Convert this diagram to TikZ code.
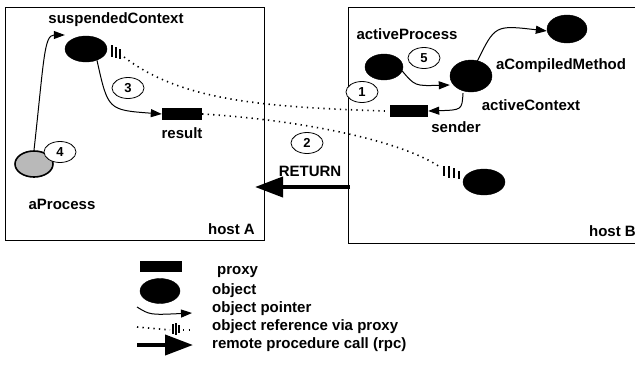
\documentclass[tikz,border=0pt]{standalone}
\usepackage{fontspec}
\setmainfont{Liberation Sans}
\usetikzlibrary{arrows.meta,shapes.geometric}
\begin{document}
\begin{tikzpicture}[x=1pt,y=-1pt,
  lbl/.style={font=\bfseries\fontsize{15}{17}\selectfont, inner sep=0pt},
  obj/.style={ellipse, fill=black, draw=black, minimum width=42pt, minimum height=26pt, inner sep=0pt},
  prx/.style={rectangle, fill=black, minimum width=40pt, minimum height=12pt, inner sep=0pt},
  num/.style={ellipse, draw=black, line width=0.8pt, fill=white, minimum width=32pt,
    minimum height=21pt, inner sep=0pt, font=\bfseries\fontsize{13}{15}\selectfont},
  ptr/.style={line width=1pt, -{Triangle[length=11pt,width=8pt]}},
  refl/.style={line width=1.6pt, dash pattern=on 1.3pt off 4.2pt},
  tick/.style={line width=1.2pt},
  rpc/.style={line width=4pt, -{Triangle[length=28pt,width=20pt]}},
  hostbox/.style={draw=black, line width=1pt}
]
\useasboundingbox (0,0) rectangle (635,380);

% hosts
\draw[hostbox] (5,7) rectangle (264,240);
\draw[hostbox] (348,7) rectangle (645,243);
\node[lbl, anchor=east] (hA) at (255,229) {host A};
\node[lbl, anchor=east] (hB) at (636,231) {host B};

% host A objects
\node[obj] (sc) at (86,49) {};
\node[lbl] (scl) at (116,20) {suspendedContext};
\node[ellipse, draw=black, line width=1.6pt, fill=gray!55, minimum width=38pt,
  minimum height=26pt, inner sep=0pt] (ap) at (34,164) {};
\node[lbl] (apl) at (62,204) {aProcess};
\node[prx] (res) at (182,114) {};
\node[lbl] (resl) at (182,133) {result};
\node[num] (n4) at (60,152) {4};
\node[num] (n3) at (128,88) {3};

% host B objects
\node[obj, minimum width=38pt] (apr) at (384,67) {};
\node[lbl] (aprl) at (407,34) {activeProcess};
\node[obj, minimum height=32pt] (ac) at (471,76) {};
\node[lbl] (acl) at (531,105) {activeContext};
\node[obj, minimum width=40pt, minimum height=28pt] (cm) at (567,29) {};
\node[lbl] (cml) at (561,66) {aCompiledMethod};
\node[prx, minimum width=38pt] (snd) at (409,111) {};
\node[lbl] (sndl) at (456,127) {sender};
\node[obj] (ob) at (484,182) {};
\node[num] (n5) at (424,58) {5};
\node[num] (n1) at (362,92) {1};
\node[num] (n2) at (307,143) {2};

% object pointers
\draw[ptr] (ap.north) .. controls (44,60) and (44,35) .. (sc.west |- 0,35);
\draw[ptr] (sc.south east) ++(-4,2) .. controls (108,110) .. (res.west);
\draw[ptr] (apr.east) ++(-1,4) .. controls (415,86) .. (ac.west |- 0,85);
\draw[ptr] (ac.north) ++(6,2) .. controls (495,25) .. (cm.west |- 0,31);
\draw[ptr] (ac.south) ++(-8,1) .. controls (462,110) .. (snd.east);

% references via proxy
\foreach \x/\a/\b in {112/45/57, 116/47/58, 120/49/59}
  \draw[tick] (\x,\a) -- (\x,\b);
\coordinate (r1) at (124,57);
\draw[refl] (r1) .. controls (180,100) and (260,107) .. ([xshift=-5pt]snd.west);
\coordinate (r2) at (440,167);
\draw[refl] (res.east) .. controls (300,120) and (400,140) .. (r2);
\foreach \x/\a/\b in {444/166/176, 449/166/178, 454/168/178, 459/171/179}
  \draw[tick] (\x,\a) -- (\x,\b);

% remote procedure call
\coordinate (rs) at (350,187);
\coordinate (re) at (255,187);
\draw[rpc] (rs) -- (re);
\node[lbl] (ret) at (310,171) {RETURN};

% legend
\node[prx, minimum width=42pt, minimum height=11pt] (lp) at (161,266) {};
\node[obj, minimum width=40pt, minimum height=25pt] (lo) at (160,291) {};
\coordinate (lpa) at (137,307);
\coordinate (lpb) at (192,313);
\draw[ptr] (lpa) .. controls (150,315) .. (lpb);
\coordinate (lra) at (137,327);
\coordinate (lrb) at (170,330);
\draw[refl] (lra) -- (lrb);
\foreach \x/\a/\b in {173/324/334, 176/323/335, 179/325/333}
  \draw[tick] (\x,\a) -- (\x,\b);
\draw[refl] (183,330) -- (190,330);
\coordinate (lca) at (137,345);
\coordinate (lcb) at (193,345);
\draw[rpc] (lca) -- (lcb);
\node[lbl, anchor=west] (t1) at (217,272) {proxy};
\node[lbl, anchor=west] (t2) at (212,291) {object};
\node[lbl, anchor=west] (t3) at (212,309) {object pointer};
\node[lbl, anchor=west] (t4) at (212,327) {object reference via proxy};
\node[lbl, anchor=west] (t5) at (212,345) {remote procedure call (rpc)};
\end{tikzpicture}
\end{document}
